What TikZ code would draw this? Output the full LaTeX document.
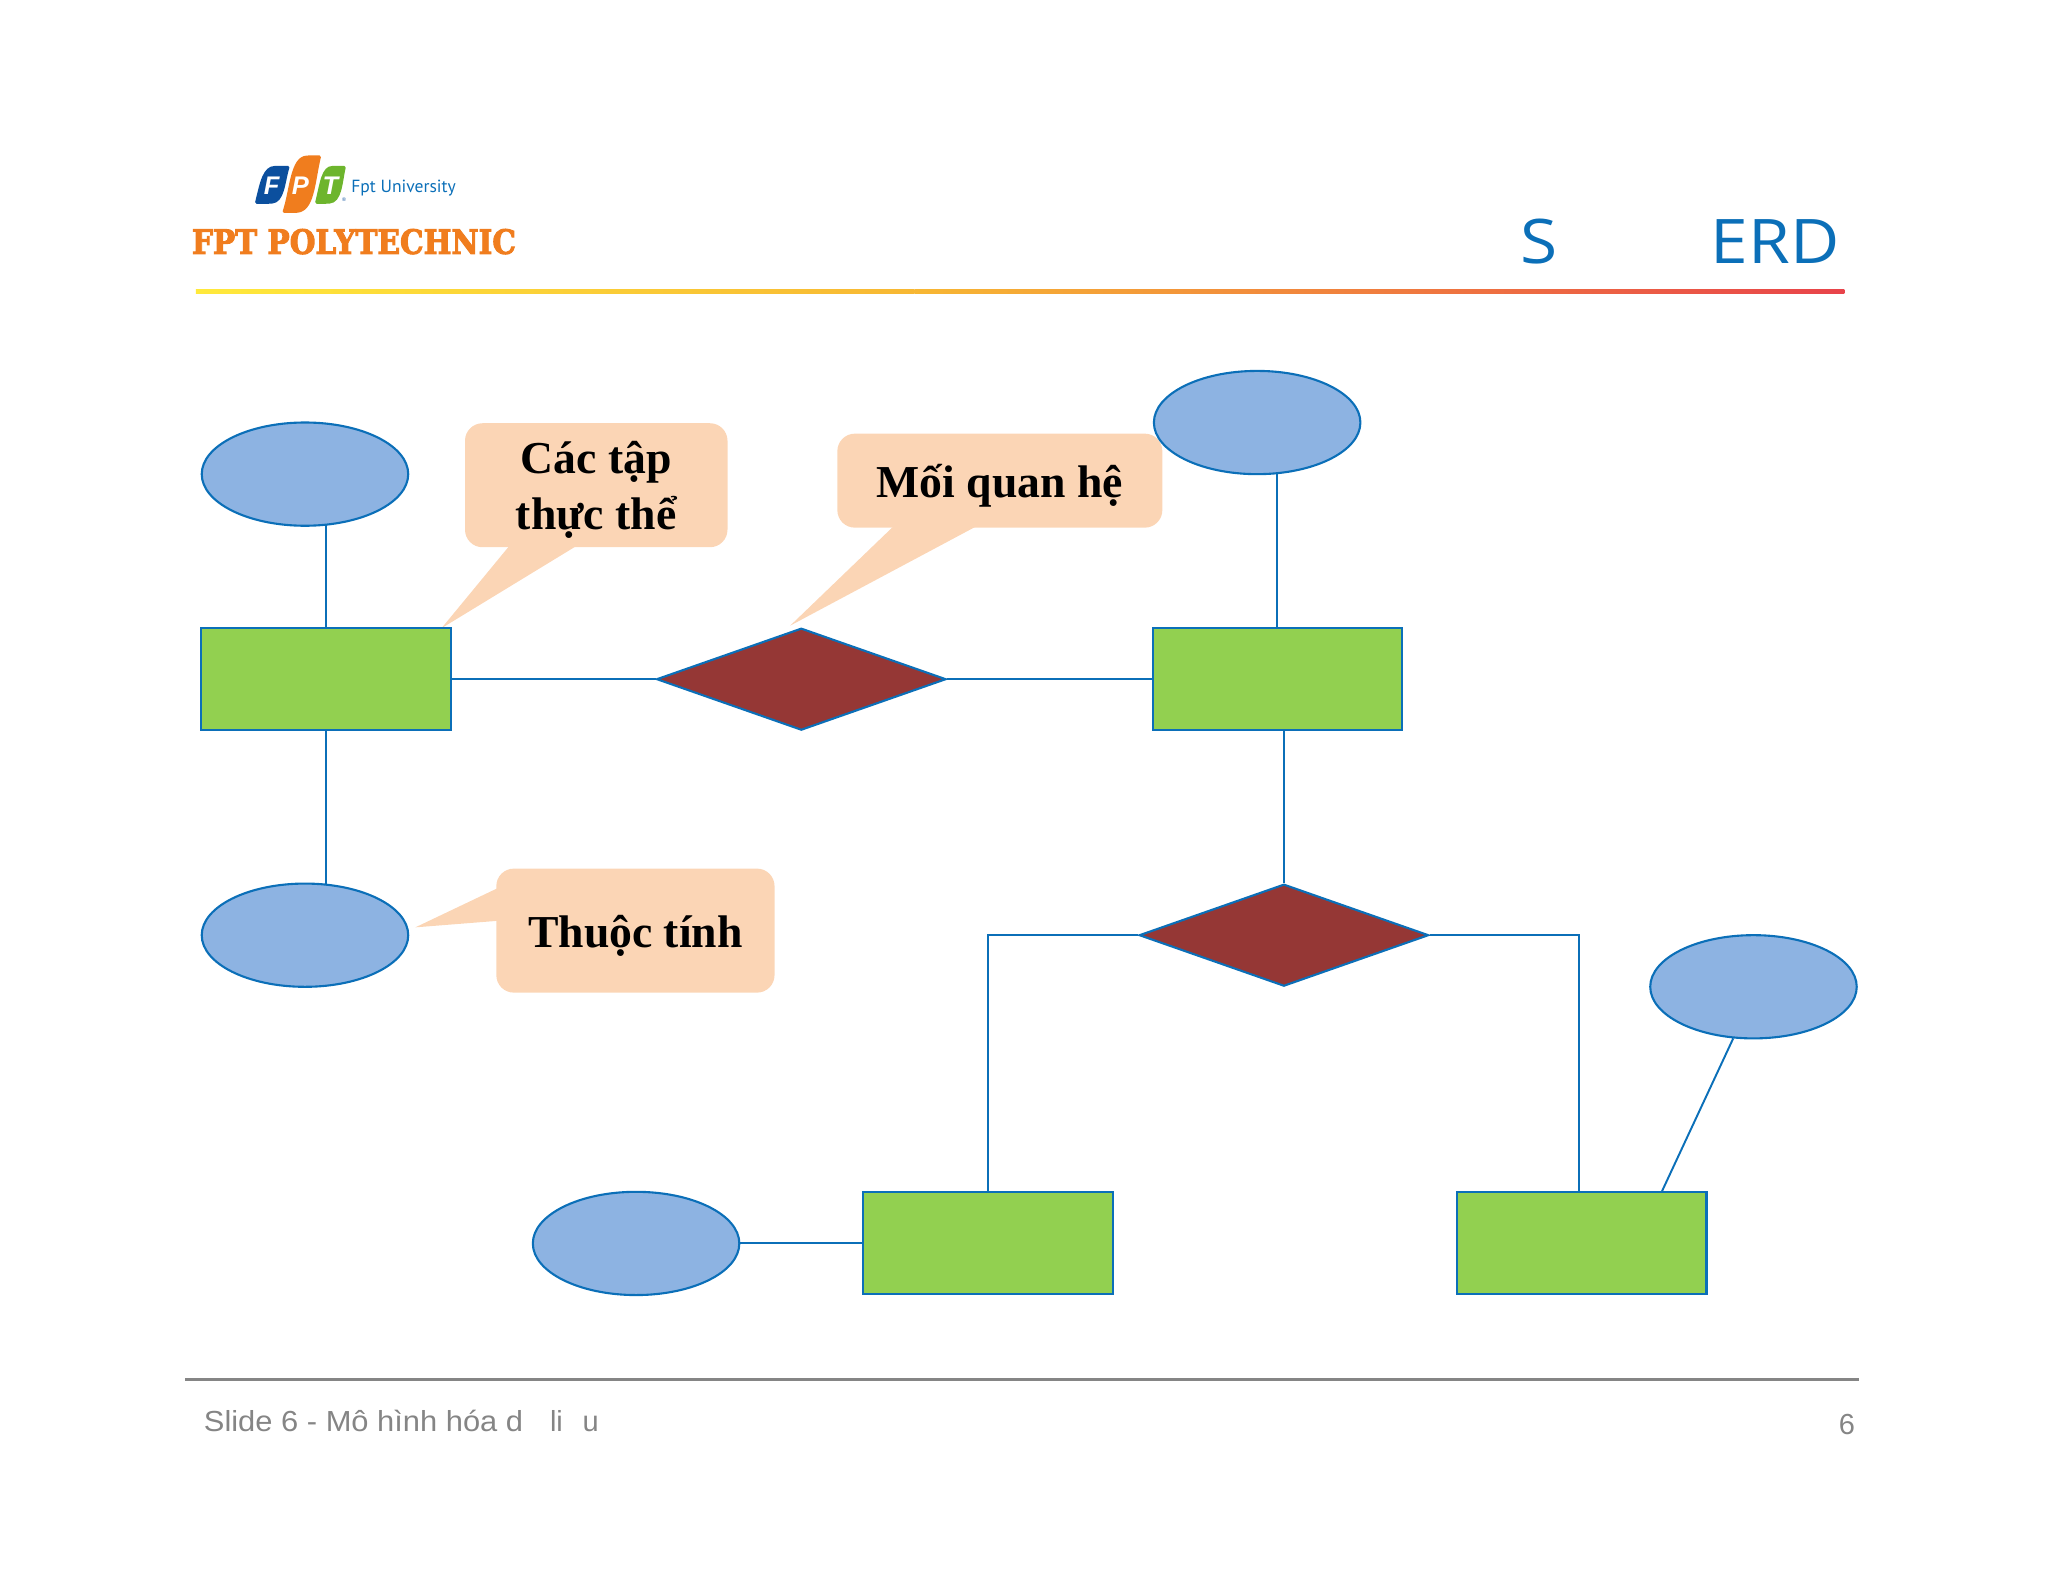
\documentclass[tikz,border=0pt]{standalone}
\usepackage{fontspec}
\setmainfont{Liberation Serif}
\newfontfamily\titlefont{Open Sans}
\newfontfamily\footfont{Liberation Sans}
\newfontfamily\slabfont[FakeBold=3]{DejaVu Serif Bold}
\newfontfamily\unifont{PT Sans}
\usetikzlibrary{shapes.geometric,backgrounds}
\definecolor{edgeblue}{HTML}{0B6FB8}
\definecolor{ellfill}{HTML}{8DB3E2}
\definecolor{recfill}{HTML}{92D050}
\definecolor{diafill}{HTML}{953735}
\definecolor{callfill}{HTML}{FBD5B5}
\definecolor{logoorange}{HTML}{F07D1E}
\definecolor{logoblue}{HTML}{0B4F9E}
\definecolor{logogreen}{HTML}{6DB52D}
\definecolor{footgray}{HTML}{858585}
\definecolor{barA}{HTML}{FFE93B}
\definecolor{barB}{HTML}{F7B733}
\definecolor{barC}{HTML}{E8434A}
\tikzset{
  x=0.052245cm,y=-0.052245cm,
  ent/.style={draw=edgeblue,line width=2.4pt,fill=recfill,rectangle,minimum width=9.98cm,minimum height=4.08cm,inner sep=0pt},
  attr/.style={draw=edgeblue,line width=2.4pt,fill=ellfill,ellipse,minimum width=8.26cm,minimum height=4.13cm,inner sep=0pt},
  rel/.style={draw=edgeblue,line width=2.4pt,fill=diafill,diamond,aspect=2.8,minimum width=11.58cm,minimum height=4.08cm,inner sep=0pt},
  conn/.style={draw=edgeblue,line width=2.2pt},
  callbox/.style={fill=callfill,rounded corners=0.7cm,inner sep=0pt},
  calltext/.style={inner sep=0pt,align=center,font=\fontsize{52}{64}\selectfont\bfseries,text=black},
  calltail/.style={fill=callfill},
  logoletter/.style={text=white,font=\footfont\bfseries\itshape\fontsize{29}{29}\selectfont,inner sep=0pt},
  foottext/.style={anchor=base west,text=footgray,font=\footfont\fontsize{33}{33}\selectfont,inner sep=0pt},
  titletext/.style={text=edgeblue,font=\titlefont\fontsize{70}{70}\selectfont,inner sep=0pt},
}
\begin{document}
\begin{tikzpicture}
\useasboundingbox (0,0) rectangle (1568,1211.3);
% header
\fill[logoblue,rounded corners=2pt] (195,156) .. controls (199,140) and (201,127) .. (212,127) -- (222,127) .. controls (218,140) and (218,155) .. (207,156) -- cycle;
\fill[logogreen,rounded corners=2pt] (241,156) .. controls (245,140) and (246,127) .. (256,127) -- (265,127) .. controls (262,140) and (262,155) .. (251,156) -- cycle;
\fill[logoorange,rounded corners=2pt] (216,163) .. controls (222,145) and (222,120) .. (236,119) -- (246,119) .. controls (241,140) and (241,162) .. (226,163) -- cycle;
\node[logoletter] (lf) at (208,142) {F};
\node[logoletter] (lp) at (230,142) {P};
\node[logoletter] (lt) at (253,142) {T};
\node[text=logoblue,font=\footfont\fontsize{6}{6}\selectfont,inner sep=0pt] (lr) at (263.5,153) {®};
\node[text=edgeblue,font=\unifont\fontsize{20}{20}\selectfont,inner sep=0pt] (uni) at (309,144) {Fpt University};
\node[text=logoorange,font=\slabfont\fontsize{33}{33}\selectfont,inner sep=0pt] (poly) at (271,185) {\resizebox{248\dimexpr0.052245cm\relax}{19\dimexpr0.052245cm\relax}{FPT POLYTECHNIC}};
\node[titletext] (ts) at (1178,185) {\scalebox{1.1}[1]{S}};
\node[titletext] (terd) at (1359,185) {\scalebox{1.1}[1]{ERD}};
\shade[left color=barA,right color=barB,shading=axis,shading angle=90] (150,221.5) rectangle (700,224.5);
\shade[left color=barB,right color=barC,shading=axis,shading angle=90] (700,221.5) rectangle (1412,224.5);
% footer
\fill[footgray] (142,1055) rectangle (1423,1057);
\node[foottext] (f1) at (156,1096) {\scalebox{1.065}[1]{Slide 6 - Mô hình hóa d}};
\node[foottext] (f2) at (421,1096) {li};
\node[foottext] (f3) at (446,1096) {u};
\node[foottext,anchor=base] (pg) at (1414,1098) {6};
% callouts
\node[callbox,minimum width=10.5cm,minimum height=4.96cm] (c1) at (456.5,371.5) {};
\node[callbox,minimum width=13cm,minimum height=3.76cm] (c2) at (765.5,368) {};
\node[callbox,minimum width=11.13cm,minimum height=4.96cm] (c3) at (486.5,712.5) {};
\node[calltext] (c1t) at ([yshift=-0.2cm]c1.center) {Các tập\\thực thể};
\node[calltext] (c2t) at ([yshift=-0.2cm]c2.center) {Mối quan hệ};
\node[calltext] (c3t) at ([yshift=-0.2cm]c3.center) {Thuộc tính};
\coordinate (t1) at (338,481);
\coordinate (t2) at (605,479);
\coordinate (t3) at (318,710);
\fill[calltail] (389.5,418.5) -- (t1) -- (440.5,418.5) -- cycle;
\fill[calltail] (683.5,403.5) -- (t2) -- (746.5,403.5) -- cycle;
\fill[calltail] (381,680) -- (t3) -- (381,705) -- cycle;
% entities etc
\node[ent] (r1) at (249.5,520) {};
\node[ent] (r2) at (978,520) {};
\node[ent] (r3) at (756.5,952) {};
\node[ent] (r4) at (1211,952) {};
\node[rel] (d1) at (613.5,520) {};
\node[rel] (d2) at (983,716) {};
\node[attr] (e1) at (233.5,363) {};
\node[attr] (e2) at (962.5,323.5) {};
\node[attr] (e3) at (233.5,716) {};
\node[attr] (e4) at (1342.5,755.5) {};
\node[attr] (e5) at (487,952) {};
\begin{scope}[on background layer]
\draw[conn] (r1.north) -- (r1.north |- e1.center);
\draw[conn] (r2.north) -- (r2.north |- e2.center);
\draw[conn] (r1.east) -- (d1.west);
\draw[conn] (d1.east) -- (r2.west);
\draw[conn] (r1.south) -- (r1.south |- e3.center);
\draw[conn] (d2.north) -- (d2.north |- r2.south);
\draw[conn] (d2.west) -| (r3.north);
\draw[conn] (d2.east) -| ([xshift=-0.1cm]r4.north);
\draw[conn] (e5.east) -- (r3.west);
\coordinate (e4foot) at (1327,795);
\coordinate (r4top) at (1272,913);
\draw[conn] (e4foot) -- (r4top);
\end{scope}
\end{tikzpicture}
\end{document}
